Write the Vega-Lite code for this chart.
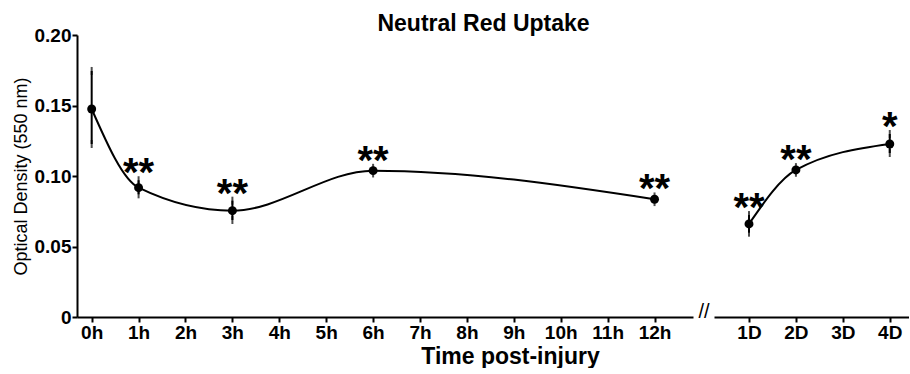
{
  "$schema": "https://vega.github.io/schema/vega-lite/v6.json",
  "padding": {"left": 12, "top": 13, "right": 0, "bottom": 0},
  "background": "white",
  "title": {
    "text": "Neutral Red Uptake",
    "font": "Liberation Sans",
    "fontSize": 23,
    "fontWeight": "bold",
    "color": "black",
    "anchor": "middle",
    "dx": 23,
    "offset": -10
  },
  "datasets": {
    "uptake": [
      {"phase": "hours", "t": 0, "od": 0.1475, "lo": 0.1227, "hi": 0.1745, "sig": ""},
      {"phase": "hours", "t": 1, "od": 0.0917, "lo": 0.087, "hi": 0.097, "sig": "**"},
      {"phase": "hours", "t": 3, "od": 0.0754, "lo": 0.0688, "hi": 0.0825, "sig": "**"},
      {"phase": "hours", "t": 6, "od": 0.1038, "lo": 0.1018, "hi": 0.1058, "sig": "**"},
      {"phase": "hours", "t": 12, "od": 0.0835, "lo": 0.0815, "hi": 0.0855, "sig": "**"},
      {"phase": "days", "t": 1, "od": 0.066, "lo": 0.0598, "hi": 0.0723, "sig": "**"},
      {"phase": "days", "t": 2, "od": 0.1043, "lo": 0.1023, "hi": 0.1063, "sig": "**"},
      {"phase": "days", "t": 4, "od": 0.1227, "lo": 0.1163, "hi": 0.1298, "sig": "*"}
    ],
    "axisBreak": [
      {"day": 0, "od": 0, "symbol": "//"}
    ]
  },
  "config": {
    "font": "Liberation Sans",
    "view": {"stroke": null},
    "axis": {
      "grid": false,
      "domainColor": "black",
      "domainWidth": 2,
      "tickColor": "black",
      "tickWidth": 2,
      "tickSize": 5,
      "labelColor": "black",
      "labelFont": "Liberation Sans",
      "labelFontWeight": "bold",
      "labelFontSize": 19,
      "titleColor": "black",
      "titleFont": "Liberation Sans"
    }
  },
  "spacing": 5,
  "hconcat": [
    {
      "width": 616,
      "height": 282,
      "data": {"name": "uptake"},
      "transform": [{"filter": "datum.phase === 'hours'"}],
      "encoding": {
        "x": {
          "field": "t",
          "type": "quantitative",
          "scale": {"domain": [-0.313, 12.82], "nice": false, "zero": false},
          "axis": {
            "values": [0, 1, 2, 3, 4, 5, 6, 7, 8, 9, 10, 11, 12],
            "labelExpr": "datum.value + 'h'",
            "labelPadding": 1,
            "title": "Time post-injury",
            "titleFontSize": 23,
            "titleFontWeight": "bold",
            "titleX": 433,
            "titlePadding": 3
          }
        },
        "y": {
          "field": "od",
          "type": "quantitative",
          "scale": {"domain": [0, 0.2], "nice": false},
          "axis": {
            "values": [0, 0.05, 0.1, 0.15, 0.2],
            "labelExpr": "datum.value === 0 ? '0' : format(datum.value, '.2f')",
            "labelPadding": 1,
            "title": "Optical Density (550 nm)",
            "titleFontSize": 18,
            "titleFontWeight": "normal",
            "titlePadding": 4
          }
        }
      },
      "layer": [
        {"mark": {"type": "line", "interpolate": "monotone", "color": "black", "strokeWidth": 2}},
        {
          "mark": {"type": "rule", "color": "black", "strokeWidth": 2},
          "encoding": {"y": {"field": "lo", "type": "quantitative"}, "y2": {"field": "hi"}}
        },
        {
          "mark": {"type": "tick", "color": "black", "thickness": 2, "size": 8},
          "encoding": {"y": {"field": "lo", "type": "quantitative"}}
        },
        {
          "mark": {"type": "tick", "color": "black", "thickness": 2, "size": 8},
          "encoding": {"y": {"field": "hi", "type": "quantitative"}}
        },
        {"mark": {"type": "point", "filled": true, "color": "black", "size": 80, "opacity": 1}},
        {
          "mark": {"type": "text", "fontSize": 40, "fontWeight": "bold", "color": "black", "baseline": "alphabetic", "align": "center", "dy": 6},
          "encoding": {"y": {"field": "hi", "type": "quantitative"}, "text": {"field": "sig"}}
        }
      ]
    },
    {
      "width": 195,
      "height": 282,
      "layer": [
        {
          "data": {"name": "uptake"},
          "transform": [{"filter": "datum.phase === 'days'"}],
          "encoding": {
            "x": {
              "field": "t",
              "type": "quantitative",
              "scale": {"domain": [0.254, 4.41], "nice": false, "zero": false},
              "axis": {
                "values": [1, 2, 3, 4],
                "labelExpr": "datum.value + 'D'",
                "labelPadding": 1,
                "title": null
              }
            },
            "y": {
              "field": "od",
              "type": "quantitative",
              "scale": {"domain": [0, 0.2], "nice": false},
              "axis": null
            }
          },
          "layer": [
            {"mark": {"type": "line", "interpolate": "monotone", "color": "black", "strokeWidth": 2}},
            {
              "mark": {"type": "rule", "color": "black", "strokeWidth": 2},
              "encoding": {"y": {"field": "lo", "type": "quantitative"}, "y2": {"field": "hi"}}
            },
            {
              "mark": {"type": "tick", "color": "black", "thickness": 2, "size": 8},
              "encoding": {"y": {"field": "lo", "type": "quantitative"}}
            },
            {
              "mark": {"type": "tick", "color": "black", "thickness": 2, "size": 8},
              "encoding": {"y": {"field": "hi", "type": "quantitative"}}
            },
            {"mark": {"type": "point", "filled": true, "color": "black", "size": 80, "opacity": 1}},
            {
              "mark": {"type": "text", "fontSize": 40, "fontWeight": "bold", "color": "black", "baseline": "alphabetic", "align": "center", "dy": 6},
              "encoding": {"y": {"field": "hi", "type": "quantitative"}, "text": {"field": "sig"}}
            }
          ]
        },
        {
          "data": {"name": "axisBreak"},
          "mark": {"type": "text", "fontSize": 20, "color": "black", "baseline": "alphabetic", "align": "center", "dx": 2, "dy": 1, "clip": false},
          "encoding": {
            "x": {"field": "day", "type": "quantitative"},
            "y": {"field": "od", "type": "quantitative"},
            "text": {"field": "symbol", "type": "nominal"}
          }
        }
      ]
    }
  ]
}
